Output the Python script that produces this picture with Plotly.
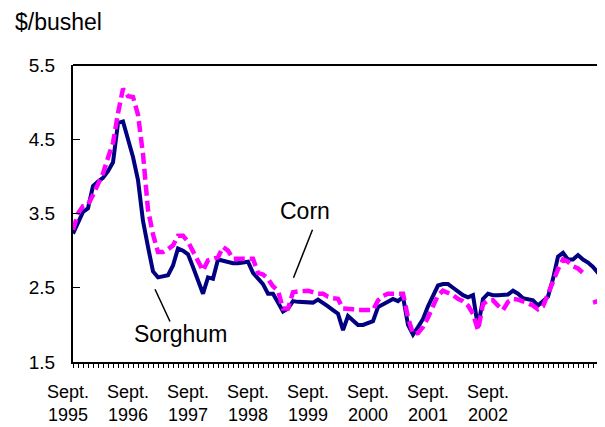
import plotly.graph_objects as go

# Month index: 0 = Sept. 1995, one step per month
sorghum = [3.23, 3.38, 3.52, 3.57, 3.87, 3.93, 3.98, 4.07, 4.19, 4.72,
           4.74, 4.50, 4.26, 3.95, 3.40, 3.05, 2.72, 2.64, 2.65, 2.67,
           2.80, 3.03, 3.00, 2.95, 2.78, 2.60, 2.42, 2.64, 2.62, 2.88,
           2.86, 2.84, 2.83, 2.83, 2.84, 2.85, 2.70, 2.62, 2.55, 2.42,
           2.42, 2.30, 2.18, 2.22, 2.32, 2.31, 2.31, 2.31, 2.30, 2.34,
           2.30, 2.25, 2.20, 2.15, 1.93, 2.12, 2.06, 2.00, 2.00, 2.03,
           2.05, 2.24, 2.28, 2.31, 2.35, 2.32, 2.38, 2.00, 1.87, 1.97,
           2.08, 2.25, 2.40, 2.53, 2.55, 2.55, 2.50, 2.45, 2.40, 2.37,
           2.40, 1.97, 2.35, 2.42, 2.40, 2.40, 2.40, 2.41, 2.46, 2.42,
           2.36, 2.34, 2.33, 2.26, 2.32, 2.38, 2.62, 2.92, 2.97, 2.88,
           2.88, 2.94, 2.88, 2.84, 2.78, 2.70, 2.67]

corn = [3.28, 3.50, 3.60, 3.62, 3.75, 3.90, 4.04, 4.25, 4.45, 4.85,
        5.18, 5.08, 5.07, 4.83, 4.30, 3.55, 3.22, 2.98, 2.98, 3.02,
        3.07, 3.20, 3.20, 3.12, 3.00, 2.87, 2.73, 2.87, 2.89, 2.91,
        3.05, 3.00, 2.89, 2.89, 2.89, 2.89, 2.89, 2.70, 2.68, 2.62,
        2.52, 2.46, 2.22, 2.22, 2.44, 2.45, 2.46, 2.46, 2.44, 2.42,
        2.42, 2.38, 2.36, 2.35, 2.22, 2.22, 2.21, 2.20, 2.20, 2.20,
        2.20, 2.33, 2.39, 2.42, 2.42, 2.42, 2.42, 2.10, 1.88, 1.89,
        1.97, 2.10, 2.25, 2.40, 2.46, 2.43, 2.40, 2.35, 2.32, 2.26,
        2.15, 1.93, 2.28, 2.33, 2.33, 2.26, 2.20, 2.31, 2.35, 2.34,
        2.32, 2.29, 2.26, 2.21, 2.25, 2.42, 2.62, 2.75, 2.88, 2.85,
        2.79, 2.76, 2.70, None, 2.30, 2.32, 2.34]

months = list(range(len(sorghum)))

tick_years = ["1995", "1996", "1997", "1998", "1999", "2000", "2001", "2002"]
tick_months = [12 * i for i in range(len(tick_years))]
tick_text = ["Sept.<br>" + y for y in tick_years]

y_ticks = [1.5, 2.5, 3.5, 4.5, 5.5]

FONT = "Liberation Sans, Arial, sans-serif"

fig = go.Figure()
fig.add_trace(go.Scatter(x=months, y=sorghum, mode="lines", name="Sorghum",
                         line=dict(color="#000080", width=4)))
fig.add_trace(go.Scatter(x=months, y=corn, mode="lines", name="Corn",
                         connectgaps=False,
                         line=dict(color="#FF00FF", width=4.5, dash="11px,5px")))

# the page body adds an 8px offset, so the figure is 8px smaller
fig.update_layout(
    width=597, height=419,
    margin=dict(l=65, r=0, t=57, b=65),
    paper_bgcolor="white", plot_bgcolor="white",
    showlegend=False,
    font=dict(family=FONT, color="black", size=18),
)

fig.update_xaxes(
    range=[0, 106.4],
    showline=True, linecolor="black", linewidth=2,
    showgrid=False, zeroline=False,
    tickvals=tick_months, ticktext=tick_text,
    ticks="outside", ticklen=4, tickwidth=1, tickcolor="black",
    minor=dict(dtick=1, tick0=0, ticks="outside", ticklen=4,
               tickwidth=1, tickcolor="black", showgrid=False),
    tickfont=dict(family=FONT, size=18, color="black"),
    ticklabelshift=-5, ticklabelstandoff=8,
)

fig.update_yaxes(
    range=[1.5, 5.5],
    showline=True, linecolor="black", linewidth=2,
    showgrid=False, zeroline=False,
    tickvals=y_ticks, ticktext=["%.1f" % v for v in y_ticks],
    ticks="inside", ticklen=7, tickwidth=1, tickcolor="black",
    tickfont=dict(family=FONT, size=19, color="black"),
    ticklabelstandoff=12,
)

# top border of plot area
fig.add_shape(type="line", xref="paper", yref="paper", x0=0, x1=1, y0=1, y1=1,
              line=dict(color="black", width=2))

# pointer lines
fig.add_shape(type="line", xref="x", yref="y", x0=47.9, y0=3.28, x1=44.1, y1=2.635,
              line=dict(color="black", width=1.5))
fig.add_shape(type="line", xref="x", yref="y", x0=16.4, y0=2.48, x1=19.4, y1=2.045,
              line=dict(color="black", width=1.5))

fig.add_annotation(text="Corn", x=46.4, y=3.53, xref="x", yref="y", showarrow=False,
                   font=dict(family=FONT, size=23, color="black"))
fig.add_annotation(text="Sorghum", x=21.4, y=1.88, xref="x", yref="y", showarrow=False,
                   font=dict(family=FONT, size=23, color="black"))
fig.add_annotation(text="$/bushel", x=-60 / 532, y=(362 - 22) / 297, xref="paper", yref="paper",
                   xanchor="left", yanchor="middle", showarrow=False,
                   font=dict(family=FONT, size=23, color="black"))

fig.write_html("out.html")
